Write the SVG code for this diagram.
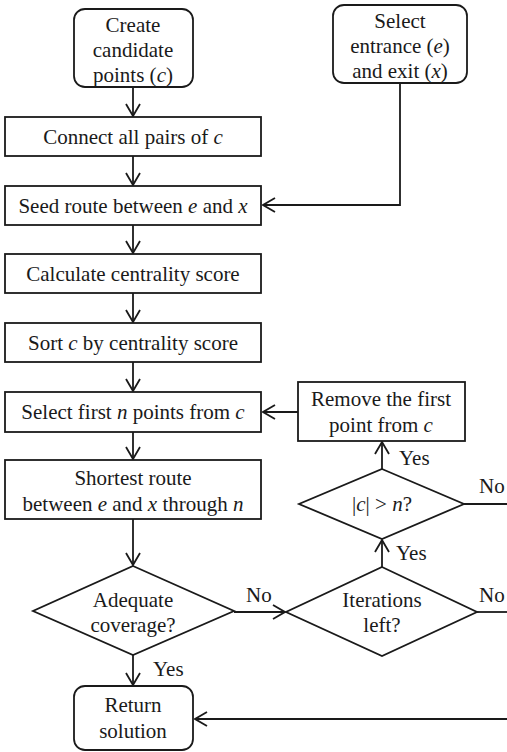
<svg xmlns="http://www.w3.org/2000/svg" width="507" height="752" viewBox="0 0 507 752" font-family="'Liberation Serif', 'Times New Roman', serif">
<style>
.n{fill:#fff;stroke:#1a1a1a;stroke-width:1.8}
text{font-family:'Liberation Serif','Times New Roman',serif;font-size:21px;fill:#1a1a1a}
.t{text-anchor:middle}
.c{fill:none;stroke:#1a1a1a;stroke-width:1.8}
.i{font-style:italic}
</style>
<defs>
<marker id="a" markerUnits="userSpaceOnUse" markerWidth="14" markerHeight="16" viewBox="0 0 14 16" refX="13" refY="8" orient="auto">
<path d="M1,1 L13,8 L1,15" fill="none" stroke="#1a1a1a" stroke-width="1.8"/>
</marker>
</defs>
<rect width="507" height="752" fill="#fff"/>
<g id="connectors">
<path class="c" d="M133,87 V116" marker-end="url(#a)"/>
<path class="c" d="M133,156 V185" marker-end="url(#a)"/>
<path class="c" d="M400,83 V205 H263" marker-end="url(#a)"/>
<path class="c" d="M133,225 V253" marker-end="url(#a)"/>
<path class="c" d="M133,293 V322" marker-end="url(#a)"/>
<path class="c" d="M133,362 V391" marker-end="url(#a)"/>
<path class="c" d="M133,432 V459" marker-end="url(#a)"/>
<path class="c" d="M133,519 V565" marker-end="url(#a)"/>
<path class="c" d="M298,412 H263" marker-end="url(#a)"/>
<path class="c" d="M382,469 V442" marker-end="url(#a)"/>
<path class="c" d="M382,567 V540" marker-end="url(#a)"/>
<path class="c" d="M234,612 H285" marker-end="url(#a)"/>
<path class="c" d="M133,655 V685" marker-end="url(#a)"/>
<path class="c" d="M464,504 H507"/>
<path class="c" d="M477,612 H507"/>
<path class="c" d="M507,719 H195" marker-end="url(#a)"/>
<text x="399" y="465">Yes</text>
<text x="396" y="560">Yes</text>
<text x="153" y="676">Yes</text>
<text x="246" y="602">No</text>
<text x="479" y="493">No</text>
<text x="479" y="602">No</text>
</g>
<g id="create">
<rect class="n" x="74" y="9" width="119" height="78" rx="11"/>
<text class="t" x="133" y="32">Create</text>
<text class="t" x="133" y="57">candidate</text>
<text class="t" x="133" y="82">points (<tspan class="i">c</tspan>)</text>
</g>
<g id="select-entrance">
<rect class="n" x="333" y="5" width="134" height="78" rx="11"/>
<text class="t" x="400" y="28">Select</text>
<text class="t" x="400" y="53">entrance (<tspan class="i">e</tspan>)</text>
<text class="t" x="400" y="78">and exit (<tspan class="i">x</tspan>)</text>
</g>
<g id="connect">
<rect class="n" x="5" y="117" width="256" height="39"/>
<text class="t" x="133" y="144">Connect all pairs of <tspan class="i">c</tspan></text>
</g>
<g id="seed">
<rect class="n" x="5" y="186" width="256" height="39"/>
<text class="t" x="133" y="213">Seed route between <tspan class="i">e</tspan> and <tspan class="i">x</tspan></text>
</g>
<g id="calculate">
<rect class="n" x="5" y="254" width="256" height="39"/>
<text class="t" x="133" y="281">Calculate centrality score</text>
</g>
<g id="sort">
<rect class="n" x="5" y="323" width="256" height="39"/>
<text class="t" x="133" y="350">Sort <tspan class="i">c</tspan> by centrality score</text>
</g>
<g id="select-first">
<rect class="n" x="5" y="392" width="256" height="40"/>
<text class="t" x="133" y="419">Select first <tspan class="i">n</tspan> points from <tspan class="i">c</tspan></text>
</g>
<g id="remove">
<rect class="n" x="298" y="382" width="167" height="59"/>
<text class="t" x="381" y="406">Remove the first</text>
<text class="t" x="381" y="432">point from <tspan class="i">c</tspan></text>
</g>
<g id="shortest">
<rect class="n" x="5" y="460" width="256" height="59"/>
<text class="t" x="133" y="485">Shortest route</text>
<text class="t" x="133" y="511">between <tspan class="i">e</tspan> and <tspan class="i">x</tspan> through <tspan class="i">n</tspan></text>
</g>
<g id="size-check">
<path class="n" d="M382,469 L464,504 L382,539 L299,504 Z"/>
<text class="t" x="382" y="511">|<tspan class="i">c</tspan>| &gt; <tspan class="i">n</tspan>?</text>
</g>
<g id="adequate">
<path class="n" d="M133,566 L234,611 L133,655 L33,611 Z"/>
<text class="t" x="133" y="607">Adequate</text>
<text class="t" x="133" y="632">coverage?</text>
</g>
<g id="iterations">
<path class="n" d="M382,567 L477,612 L382,656 L286,612 Z"/>
<text class="t" x="382" y="607">Iterations</text>
<text class="t" x="382" y="632">left?</text>
</g>
<g id="return">
<rect class="n" x="74" y="686" width="119" height="64" rx="11"/>
<text class="t" x="133" y="712">Return</text>
<text class="t" x="133" y="738">solution</text>
</g>
</svg>
